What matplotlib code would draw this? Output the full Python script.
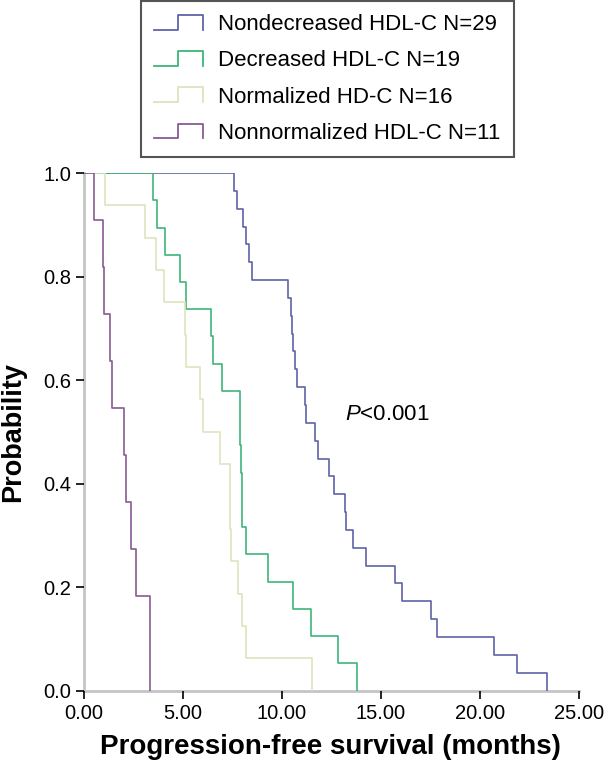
import matplotlib
matplotlib.use('Agg')
import matplotlib.pyplot as plt
from matplotlib.legend_handler import HandlerBase
from matplotlib.lines import Line2D

plt.rcParams['font.family'] = ['Liberation Sans', 'DejaVu Sans']
plt.rcParams['mathtext.fontset'] = 'custom'
plt.rcParams['mathtext.it'] = 'Liberation Sans:italic'
plt.rcParams['mathtext.rm'] = 'Liberation Sans'

# Event times (months); no censoring visible
nondecreased_times = [7.55, 7.72, 8.02, 8.19, 8.32, 8.49, 10.29, 10.46, 10.5, 10.55,
                      10.68, 10.75, 11.15, 11.2, 11.69, 11.84, 12.35, 12.62, 13.2, 13.25,
                      13.58, 14.25, 15.72, 16.05, 17.53, 17.84, 20.7, 21.88, 23.39]
decreased_times = [3.47, 3.68, 4.1, 4.86, 5.13, 6.39, 6.5, 6.98, 7.85, 7.9,
                   7.93, 7.97, 8.0, 8.19, 9.3, 10.55, 11.47, 12.82, 13.78]
normalized_times = [1.04, 3.06, 3.65, 4.02, 5.1, 5.13, 5.83, 6.0, 6.84, 7.36,
                    7.38, 7.4, 7.75, 7.97, 8.19, 11.5]
nonnormalized_times = [0.49, 0.95, 1.0, 1.3, 1.4, 2.0, 2.1, 2.38, 2.64, 3.3, 3.35]

labels = ['Nondecreased HDL-C N=29', 'Decreased HDL-C N=19',
          'Normalized HD-C N=16', 'Nonnormalized HDL-C N=11']
colors = ['#5f63a8', '#3db57a', '#dfe3bd', '#8a5a92']
groups = [nondecreased_times, decreased_times, normalized_times, nonnormalized_times]


def km_curve(times):
    n = len(times)
    xs = [0.0] + list(times)
    ys = [1.0] + [1.0 - (i + 1) / n for i in range(n)]
    return xs, ys


class StepHandler(HandlerBase):
    def create_artists(self, legend, orig_handle, xdescent, ydescent,
                       width, height, fontsize, trans):
        x0 = -xdescent
        y0 = -ydescent
        lo = y0
        hi = y0 + height
        xm = x0 + 0.48 * width
        xs = [x0, xm, xm, x0 + width, x0 + width]
        ys = [lo, lo, hi, hi, lo]
        line = Line2D(xs, ys, color=orig_handle.get_color(), lw=1.3)
        line.set_transform(trans)
        return [line]


fig = plt.figure(figsize=(6.06, 7.69), dpi=100)
ax = fig.add_axes([0.139, 0.102, 0.816, 0.673])

handles = []
for times, col, lab in zip(groups, colors, labels):
    xs, ys = km_curve(times)
    ln, = ax.step(xs, ys, where='post', color=col, lw=1.2, label=lab)
    handles.append(ln)

ax.set_xlim(0, 25)
ax.set_ylim(0, 1.0)
ax.set_xticks([0, 5, 10, 15, 20, 25])
ax.set_xticklabels(['0.00', '5.00', '10.00', '15.00', '20.00', '25.00'])
ax.set_yticks([0, 0.2, 0.4, 0.6, 0.8, 1.0])
ax.set_yticklabels(['0.0', '0.2', '0.4', '0.6', '0.8', '1.0'])
ax.tick_params(axis='both', labelsize=14.5, length=6, width=1.2, color='black',
               direction='out', pad=3.5)

for s in ['top', 'right']:
    ax.spines[s].set_visible(False)
for s in ['left', 'bottom']:
    ax.spines[s].set_color('#c4c4c4')
    ax.spines[s].set_linewidth(2)
    ax.spines[s].set_zorder(0)

ax.set_xlabel('Progression-free survival (months)', fontsize=20, fontweight='bold')
ax.set_ylabel('Probability', fontsize=19.5, fontweight='bold')
ax.xaxis.set_label_coords(0.498, -0.083)
ax.yaxis.set_label_coords(-0.118, 0.5)

ax.text(13.2, 0.533, '$P$<0.001', fontsize=16, va='center', ha='left')

leg = fig.legend(handles, labels, loc='upper left', bbox_to_anchor=(141 / 606, 1 - 1 / 769),
                 fontsize=16, handler_map={Line2D: StepHandler()},
                 handlelength=2.18, handleheight=0.64, handletextpad=0.68,
                 labelspacing=0.68, borderpad=0.6, borderaxespad=0,
                 fancybox=False, framealpha=1)
leg.get_frame().set_edgecolor('#555555')
leg.get_frame().set_linewidth(1.5)

fig.savefig('out.png', dpi=100)
